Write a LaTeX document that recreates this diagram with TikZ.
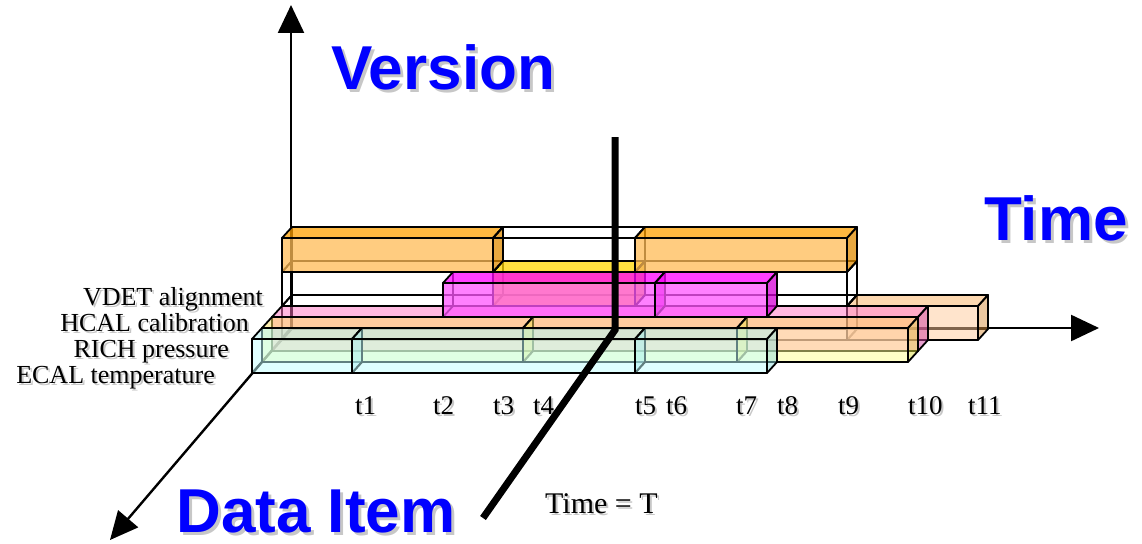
\documentclass[tikz,border=0pt]{standalone}
\usepackage{fontspec}
\setmainfont{Liberation Serif}
\newfontfamily\headfont{Liberation Sans}
\usepackage{tikz}
\usetikzlibrary{arrows.meta}

% face colours (front, top, side) of each kind of interval
\definecolor{ecalF}{HTML}{C0FFFF}
\definecolor{ecalT}{HTML}{B0F0F0}
\definecolor{ecalS}{HTML}{90E0E0}
\definecolor{richF}{HTML}{FFFF90}
\definecolor{richT}{HTML}{FFE060}
\definecolor{richS}{HTML}{E0E040}
\definecolor{hcalF}{HTML}{FF71C1}
\definecolor{hcalT}{HTML}{FF71C1}
\definecolor{hcalS}{HTML}{D040A0}
\definecolor{hcalnewF}{HTML}{FF56FF}
\definecolor{hcalnewT}{HTML}{FF00FF}
\definecolor{hcalnewS}{HTML}{D600D6}
\definecolor{peachF}{HTML}{FFC999}
\definecolor{peachT}{HTML}{FBB161}
\definecolor{peachS}{HTML}{D99141}
\definecolor{vdetF}{HTML}{FFBB56}
\definecolor{vdetT}{HTML}{FFA000}
\definecolor{vdetS}{HTML}{E08B00}
\definecolor{goldF}{HTML}{FFD600}
\definecolor{goldT}{HTML}{FFD600}
\definecolor{goldS}{HTML}{E0B000}
\definecolor{emptyF}{HTML}{FFFFFF}
\definecolor{emptyT}{HTML}{FFFFFF}
\definecolor{emptyS}{HTML}{FFFFFF}

\newcommand\slabh{34}
% validity box: front left x, front right x, front bottom y, colour, opacity
\newcommand\ivbox[5]{%
  \draw[boxline] (#1+10,#3-11) -- (#1,#3)
                 (#1+10,#3-11) -- (#1+10,#3-11-\slabh)
                 (#1+10,#3-11) -- (#2+10,#3-11);
  \filldraw[boxline, fill=#4T, fill opacity=#5] (#1,#3-\slabh) -- ++(10,-11) -- (#2+10,#3-11-\slabh) -- (#2,#3-\slabh) -- cycle;
  \filldraw[boxline, fill=#4S, fill opacity=#5] (#2,#3-\slabh) -- ++(10,-11) -- ++(0,\slabh) -- (#2,#3) -- cycle;
  \filldraw[boxline, fill=#4F, fill opacity=#5] (#1,#3) rectangle (#2,#3-\slabh);
}
\newcommand\shadowed[2]{\makebox[0pt][l]{\kern#1\raisebox{-#1}{\textcolor{black!22}{#2}}}#2}

\begin{document}
\begin{tikzpicture}[
    x=1pt, y=-1pt,
    >={Triangle[length=28pt,width=26pt]},
    % Base styles
    boxline/.style={draw=black, line width=1.8pt, line join=round},
    axis/.style={->, line width=2.4pt},
    rowlabel/.style={anchor=base east, inner sep=0pt, font=\fontsize{26}{30}\selectfont},
    timelabel/.style={anchor=base west, inner sep=0pt, font=\fontsize{27}{30}\selectfont},
    heading/.style={inner sep=0pt, text=blue, font=\headfont\bfseries\fontsize{62}{70}\selectfont},
    cut/.style={line width=7pt, line join=miter}
]
\useasboundingbox (0,0) rectangle (1142,543);

% --- Axes ---
\coordinate (origin) at (291,328);
\coordinate (versiontip) at (291,5);
\coordinate (timetip) at (1099,328);
\coordinate (itemtip) at (110,540);
\draw[axis] (origin) -- (versiontip);
\draw[axis] (origin) -- (timetip);
\draw[axis] (origin) -- (itemtip);

% --- Data items ---
\node[rowlabel] (vdet) at (263,305) {\shadowed{2pt}{VDET alignment}};
\node[rowlabel] (hcal) at (249,331) {\shadowed{2pt}{HCAL calibration}};
\node[rowlabel] (rich) at (229,357) {\shadowed{2pt}{RICH pressure}};
\node[rowlabel] (ecal) at (215,383) {\shadowed{2pt}{ECAL temperature}};

% --- Boxes, back row first ---
% VDET
\ivbox{282}{847}{340}{empty}{0}
\ivbox{847}{978}{340}{peach}{0.5}
\ivbox{282}{493}{306}{empty}{0}
\ivbox{493}{635}{306}{gold}{0.75}
\ivbox{635}{847}{306}{empty}{0}
\ivbox{282}{493}{272}{vdet}{0.75}
\ivbox{493}{635}{272}{empty}{0}
\ivbox{635}{847}{272}{vdet}{0.75}
% HCAL
\ivbox{272}{918}{351}{hcal}{0.5}
\ivbox{443}{655}{317}{hcalnew}{0.75}
\ivbox{655}{767}{317}{hcalnew}{0.75}
% RICH
\ivbox{262}{523}{362}{rich}{0.5}
\ivbox{523}{737}{362}{rich}{0.5}
\ivbox{737}{908}{362}{rich}{0.5}
% ECAL
\ivbox{252}{352}{373}{ecal}{0.5}
\ivbox{352}{635}{373}{ecal}{0.5}
\ivbox{635}{767}{373}{ecal}{0.5}

% --- Time stamps ---
\node[timelabel] (t1) at (355,414) {\shadowed{2pt}{t1}};
\node[timelabel] (t2) at (433,414) {\shadowed{2pt}{t2}};
\node[timelabel] (t3) at (493,414) {\shadowed{2pt}{t3}};
\node[timelabel] (t4) at (533,414) {\shadowed{2pt}{t4}};
\node[timelabel] (t5) at (635,414) {\shadowed{2pt}{t5}};
\node[timelabel] (t6) at (666,414) {\shadowed{2pt}{t6}};
\node[timelabel] (t7) at (736,414) {\shadowed{2pt}{t7}};
\node[timelabel] (t8) at (777,414) {\shadowed{2pt}{t8}};
\node[timelabel] (t9) at (838,414) {\shadowed{2pt}{t9}};
\node[timelabel] (t10) at (908,414) {\shadowed{2pt}{t10}};
\node[timelabel] (t11) at (968,414) {\shadowed{2pt}{t11}};

% --- Time = T cut ---
\coordinate (cuttop) at (615,137);
\coordinate (cutknee) at (615,330);
\coordinate (cutfoot) at (483,518);
\draw[cut] (cuttop) -- (cutknee) -- (cutfoot);
\node[timelabel, font=\fontsize{30}{34}\selectfont] (timeT) at (545,513) {\shadowed{2pt}{Time = T}};

% --- Axis titles ---
\node[heading] (version) at (443,69) {\shadowed{3pt}{Version}};
\node[heading] (time) at (1056,220) {\shadowed{3pt}{Time}};
\node[heading] (dataitem) at (316,513) {\shadowed{3pt}{Data Item}};

\end{tikzpicture}
\end{document}
